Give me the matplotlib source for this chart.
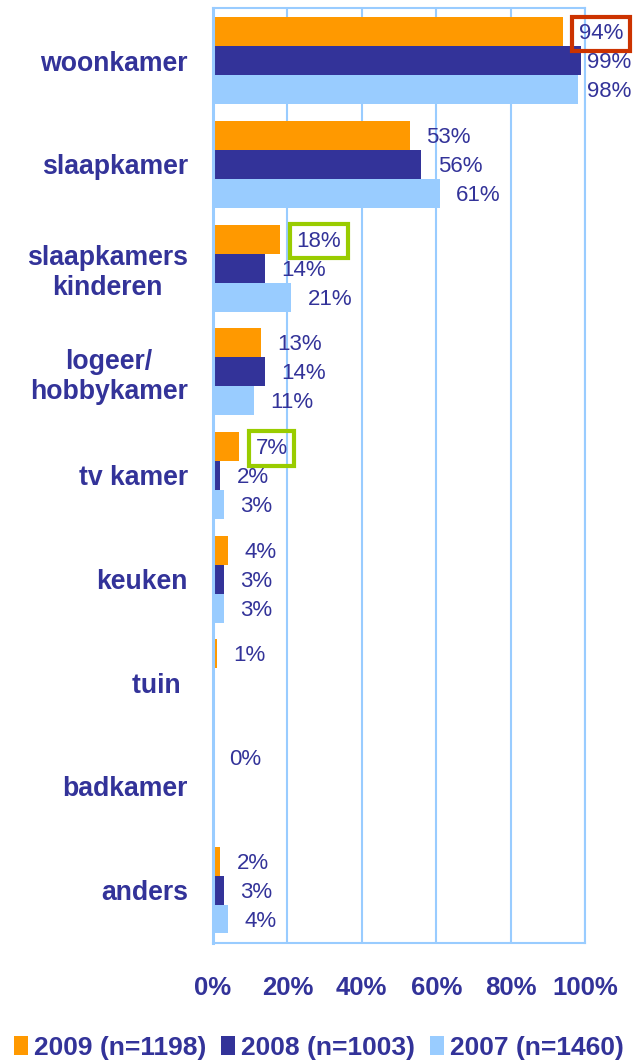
import numpy as np
import matplotlib
matplotlib.use('Agg')
import matplotlib.pyplot as plt
from matplotlib.patches import Patch

plt.rcParams['font.family'] = ['Liberation Sans', 'DejaVu Sans']

categories = ['woonkamer', 'slaapkamer', 'slaapkamers\nkinderen', 'logeer/\nhobbykamer',
              'tv kamer', 'keuken', 'tuin ', 'badkamer', 'anders']
v2009 = [94, 53, 18, 13, 7, 4, 1, 0, 2]
v2008 = [99, 56, 14, 14, 2, 3, np.nan, np.nan, 3]
v2007 = [98, 61, 21, 11, 3, 3, np.nan, np.nan, 4]
series_names = ['2009 (n=1198)', '2008 (n=1003)', '2007 (n=1460)']
xticks = [0, 20, 40, 60, 80, 100]

txt = '#333399'
grid_col = '#99CCFF'
colors = ['#FF9900', '#333399', '#99CCFF']

fig = plt.figure(figsize=(6.39, 10.6), dpi=100)
ax = fig.add_axes([0.3333, 0.1104, 0.5822, 0.8821])

y = np.arange(len(categories))
h = 0.279
series = [v2009, v2008, v2007]
for k, (vals, col) in enumerate(zip(series, colors)):
    pos = y + (k - 1) * h
    ax.barh(pos, vals, height=h, color=col, zorder=2)
    for p, v in zip(pos, vals):
        if np.isnan(v):
            continue
        xt = min(v + 4.4, 100.6)
        bbox = None
        if k == 0 and v == 94:
            bbox = dict(boxstyle='square,pad=0.3', facecolor='none', edgecolor='#CC3300', lw=3)
        elif k == 0 and v in (18, 7):
            bbox = dict(boxstyle='square,pad=0.3', facecolor='none', edgecolor='#99CC00', lw=3)
        ax.text(xt, p + 0.02, '%d%%' % v, va='center', ha='left', color=txt,
                fontsize=16, bbox=bbox, zorder=4, clip_on=False)

ax.set_xlim(0, 100)
ax.set_ylim(len(categories) - 0.49, -0.51)
ax.set_xticks(xticks)
ax.set_xticklabels(['%d%%' % t for t in xticks], fontsize=18.5, fontweight='bold', color=txt)
ax.set_yticks(y)
ax.set_yticklabels(categories, fontsize=19.2, fontweight='bold', color=txt,
                   multialignment='center')
ax.tick_params(axis='both', length=0)
ax.tick_params(axis='x', pad=24)
ax.tick_params(axis='y', pad=18)
ax.grid(axis='x', color=grid_col, lw=1.5, zorder=1)
ax.set_axisbelow(True)
for s in ax.spines.values():
    s.set_color(grid_col)
    s.set_linewidth(1.5)
ax.spines['left'].set_linewidth(2.2)

handles = [Patch(facecolor=c, edgecolor='none') for c in colors]
fig.legend(handles, series_names, loc='lower center', bbox_to_anchor=(0.499, -0.022), ncol=3,
           frameon=False, handlelength=0.55, handleheight=0.7, handletextpad=0.22,
           columnspacing=0.55, prop={'weight': 'bold', 'size': 19}, labelcolor=txt)

fig.savefig('out.png', dpi=100)
